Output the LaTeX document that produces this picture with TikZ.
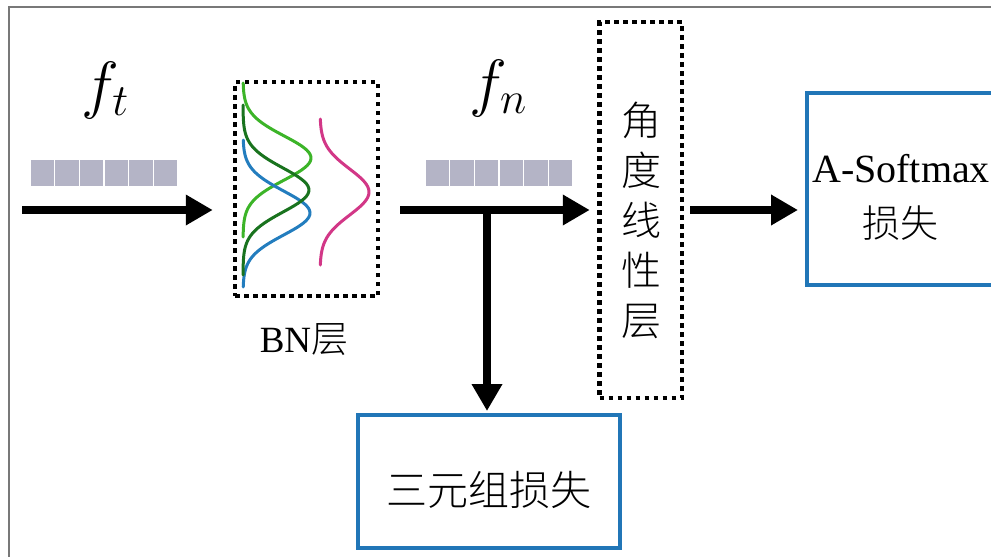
\RequirePackage{fix-cm}
\documentclass[tikz,border=0pt]{standalone}
\usepackage{fontspec}
\usepackage{graphicx}
\newfontfamily\cjk{Noto Sans CJK SC}[UprightFont=* Light]
\newfontfamily\serifrm{Liberation Serif}
\usetikzlibrary{arrows.meta}
\definecolor{boxblue}{RGB}{33,118,183}
\definecolor{cellgray}{RGB}{180,180,198}
\definecolor{lgreen}{RGB}{60,180,40}
\definecolor{dgreen}{RGB}{25,115,30}
\definecolor{cblue}{RGB}{35,125,190}
\definecolor{cpink}{RGB}{210,55,135}
\definecolor{framegray}{RGB}{120,120,120}
\begin{document}
\begin{tikzpicture}[x=1pt,y=-1pt,
  flow/.style={line width=7.5pt,-{Triangle[length=27pt,width=29pt]}},
  dotbox/.style={draw,line width=4.5pt,dash pattern=on 4.5pt off 4.5pt,inner sep=0pt},
  lossbox/.style={draw=boxblue,line width=4pt,inner sep=0pt},
  gauss/.style={line width=3pt,line cap=round},
  cjklabel/.style={font=\cjk\fontsize{40}{50}\selectfont,align=center,inner sep=0pt},
  featlabel/.style={inner sep=0pt,font=\fontsize{64}{64}\selectfont},
  cell/.style={fill=cellgray},
]
\useasboundingbox (0,0) rectangle (991,557);
\clip (0,0) rectangle (991,557);

% outer frame
\draw[framegray,line width=1.3pt] (9,7) rectangle (1200,700);

% feature vector labels
\node[featlabel] (ft) at (105,90) {$f_{t}$};
\node[featlabel] (fn) at (498,88) {$f_{n}$};

% feature vectors (6 cells each)
\foreach \i in {0,...,5}{
  \fill[cell] (30+\i*24.67+0.75,160) rectangle ++(23.17,26);
  \fill[cell] (425+\i*24.67+0.75,160) rectangle ++(23.17,26);
}

% BN layer
\node[dotbox,minimum width=143pt,minimum height=214pt] (bn) at (306.5,189) {};
\node[inner sep=0pt,anchor=base,font=\fontsize{37}{37}\selectfont] (bnlabel) at (304,352) {{\serifrm BN}{\cjk 层}};
\draw[gauss,lgreen] plot[domain=83:237,samples=70,smooth] ({243+68*exp(-((\x-158)^2)/(2*22^2))},\x);
\draw[gauss,cblue] plot[domain=140:287,samples=70,smooth] ({243+67*exp(-((\x-213)^2)/(2*22^2))},\x);
\draw[gauss,dgreen] plot[domain=105:275,samples=70,smooth] ({243+66*exp(-((\x-190)^2)/(2*22^2))},\x);
\draw[gauss,cpink] plot[domain=119:265,samples=70,smooth] ({320+49*exp(-((\x-192)^2)/(2*23^2))},\x);

% angular linear layer
\node[dotbox,minimum width=82.5pt,minimum height=376pt] (ang) at (640.75,210) {};
\node[cjklabel] (angtext) at (641,220) {角\\度\\线\\性\\层};

% loss boxes
\node[lossbox,minimum width=293pt,minimum height=192pt] (soft) at (953.5,188.5) {};
\node[inner sep=0pt,anchor=base west,font=\serifrm\fontsize{40}{40}\selectfont] (softtext) at (812,182) {A-Softmax};
\node[inner sep=0pt,font=\cjk\fontsize{38}{38}\selectfont] (softcn) at (900,223) {损失};

\node[lossbox,minimum width=262pt,minimum height=133pt] (trip) at (489,481.5) {};
\node[inner sep=0pt,font=\cjk\fontsize{41}{41}\selectfont] (triptext) at (489,490) {三元组损失};

% connectors
\coordinate (in) at (22,210);
\coordinate (bnout) at (400,210);
\coordinate (junc) at (487,210);
\draw[flow,shorten >=20pt] (in) -- (bn.west |- in);
\draw[flow,shorten >=7.5pt] (bnout) -- (ang.west |- bnout);
\draw[flow,shorten >=2pt] (junc) -- (junc |- trip.north);
\draw[flow,shorten <=6pt,shorten >=7pt] (ang.east |- bnout) -- (soft.west |- bnout);
\end{tikzpicture}
\end{document}
